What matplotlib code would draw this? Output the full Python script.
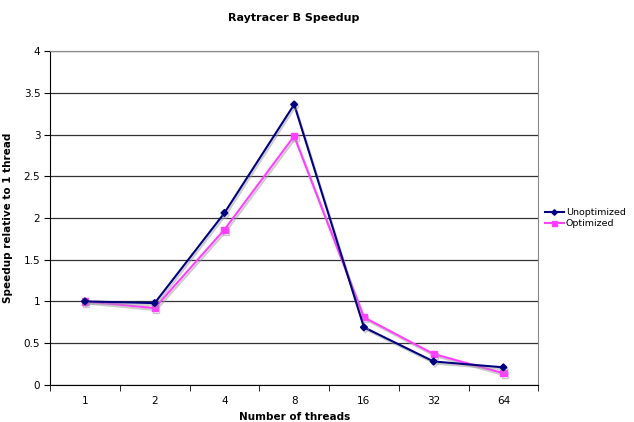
import matplotlib
matplotlib.use("Agg")
import matplotlib.pyplot as plt
import matplotlib.patheffects as pe

# thread counts and speedups
THREADS = ["1", "2", "4", "8", "16", "32", "64"]
UNOPTIMIZED = [1.0, 0.98, 2.06, 3.36, 0.69, 0.28, 0.21]
OPTIMIZED = [1.0, 0.92, 1.86, 2.98, 0.81, 0.37, 0.14]

plt.rcParams['font.family'] = ['DejaVu Sans']

fig = plt.figure(figsize=(6.34, 4.22), dpi=100)
ax = fig.add_axes([0.079, 0.088, 0.770, 0.791])

x = list(range(len(THREADS)))
shadow = [pe.SimpleLineShadow(offset=(1, -1.5), shadow_color='#999999', alpha=0.5), pe.Normal()]
ax.plot(x, UNOPTIMIZED, color='#000080', marker='D', markersize=3.5, linewidth=1.5,
        label='Unoptimized', path_effects=shadow, zorder=4)
ax.plot(x, OPTIMIZED, color='#ff40ff', marker='s', markersize=4.5, linewidth=1.5,
        label='Optimized', path_effects=shadow, zorder=3)

ax.set_xlim(-0.5, len(THREADS) - 0.5)
ax.set_ylim(0, 4)
ax.set_yticks([0, 0.5, 1, 1.5, 2, 2.5, 3, 3.5, 4])
ax.set_yticklabels(['0', '0.5', '1', '1.5', '2', '2.5', '3', '3.5', '4'], fontsize=7.5)
ax.set_xticks(x)
ax.set_xticklabels(THREADS, fontsize=7.5)
ax.tick_params(axis='x', length=0, pad=8)
ax.set_xticks([i - 0.5 for i in range(len(THREADS) + 1)], minor=True)
ax.tick_params(axis='x', which='minor', length=4, direction='out', color='black')
ax.tick_params(axis='y', length=4, direction='out', color='black', pad=3)

ax.grid(True, axis='y', color='#333333', linewidth=0.9)
ax.set_axisbelow(True)
for s in ['top', 'right']:
    ax.spines[s].set_color('#888888')
for s in ['left', 'bottom']:
    ax.spines[s].set_color('black')

ax.set_title('Raytracer B Speedup', fontsize=8, fontweight='bold', pad=22)
ax.set_xlabel('Number of threads', fontsize=7.5, fontweight='bold', labelpad=4)
ax.set_ylabel('Speedup relative to 1 thread', fontsize=7.5, fontweight='bold', labelpad=8)

leg = ax.legend(loc='center left', bbox_to_anchor=(1.0, 0.5), frameon=False, fontsize=6.8,
                handlelength=2.0, borderaxespad=0.3, labelspacing=0.2, handletextpad=0.2,
                markerscale=0.8)
for line in leg.get_lines():
    line.set_path_effects([])

fig.savefig('out.png', dpi=100)
